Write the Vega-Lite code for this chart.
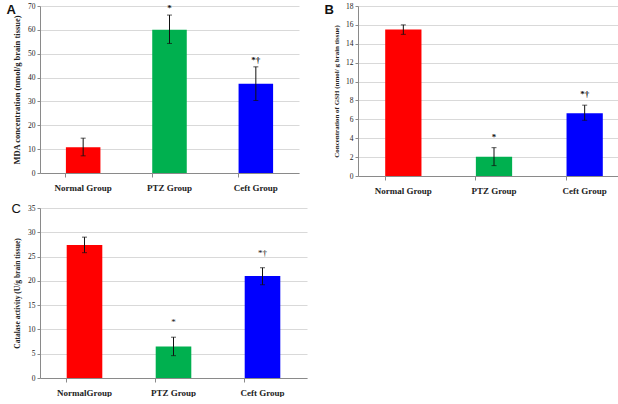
{
  "$schema": "https://vega.github.io/schema/vega-lite/v6.json",
  "background": "white",
  "padding": {"left": 6, "top": 2, "right": 0, "bottom": 0},
  "spacing": 8,
  "resolve": {"scale": {"color": "independent", "x": "independent", "y": "independent"}},
  "datasets": {
    "A": [
      {"group": "Normal Group", "mean": 10.8, "lo": 7.2, "hi": 14.6, "sig": ""},
      {"group": "PTZ Group", "mean": 60, "lo": 54.3, "hi": 66.2, "sig": "*"},
      {"group": "Ceft Group", "mean": 37.4, "lo": 30.4, "hi": 44.5, "sig": "*†"}
    ],
    "B": [
      {"group": "Normal Group", "mean": 15.5, "lo": 15.0, "hi": 16.0, "sig": ""},
      {"group": "PTZ  Group", "mean": 2.05, "lo": 1.1, "hi": 3.0, "sig": "*"},
      {"group": "Ceft Group", "mean": 6.65, "lo": 5.9, "hi": 7.5, "sig": "*†"}
    ],
    "C": [
      {"group": "NormalGroup", "mean": 27.4, "lo": 25.8, "hi": 29.0, "sig": ""},
      {"group": "PTZ Group", "mean": 6.5, "lo": 4.6, "hi": 8.4, "sig": "*"},
      {"group": "Ceft Group", "mean": 21.0, "lo": 19.2, "hi": 22.7, "sig": "*†"}
    ]
  },
  "config": {
    "view": {"stroke": null},
    "font": "Liberation Serif",
    "axis": {
      "labelFont": "Liberation Serif",
      "titleFont": "Liberation Serif",
      "labelColor": "#222",
      "titleColor": "#222",
      "domainColor": "#8a8a8a",
      "tickColor": "#8a8a8a",
      "gridColor": "#d9d9d9",
      "labelFontSize": 7.5,
      "tickSize": 3
    },
    "axisY": {"titleFontWeight": "bold", "titlePadding": 6},
    "axisX": {"labelFontSize": 9, "labelFontWeight": "bold", "labelAngle": 0, "grid": false, "bandPosition": 0, "tickSize": 4, "labelPadding": 6},
    "title": {"font": "Arial", "fontSize": 13, "fontWeight": "bold", "anchor": "start", "frame": "bounds", "color": "#111"}
  },
  "vconcat": [
    {
      "spacing": 25,
      "resolve": {"scale": {"color": "independent", "x": "independent", "y": "independent"}},
      "hconcat": [
        {
          "title": {"text": "A", "dy": 19, "dx": -6},
          "width": 259,
          "height": 167,
          "data": {"name": "A"},
          "encoding": {
            "x": {"field": "group", "type": "nominal", "sort": null, "scale": {"paddingInner": 0.6, "paddingOuter": 0.3}, "axis": {"title": null}}
          },
          "layer": [
            {
              "mark": {"type": "bar"},
              "encoding": {
                "y": {"field": "mean", "type": "quantitative", "scale": {"domain": [0, 70]}, "axis": {"values": [0,10,20,30,40,50,60,70], "title": "MDA concentration (nmol/g brain tissue)", "titleFontSize": 8.5}},
                "color": {"field": "group", "type": "nominal", "sort": null, "scale": {"range": ["#ff0000", "#00b04f", "#0000ff"]}, "legend": null}
              }
            },
            {"mark": {"type": "rule", "color": "#111", "strokeWidth": 1}, "encoding": {"y": {"field": "lo", "type": "quantitative", "axis": {"values": [0,10,20,30,40,50,60,70], "title": "MDA concentration (nmol/g brain tissue)", "titleFontSize": 8.5}}, "y2": {"field": "hi"}}},
            {"mark": {"type": "tick", "color": "#111", "size": 5, "thickness": 1}, "encoding": {"y": {"field": "lo", "type": "quantitative", "axis": {"values": [0,10,20,30,40,50,60,70], "title": "MDA concentration (nmol/g brain tissue)", "titleFontSize": 8.5}}}},
            {"mark": {"type": "tick", "color": "#111", "size": 5, "thickness": 1}, "encoding": {"y": {"field": "hi", "type": "quantitative", "axis": {"values": [0,10,20,30,40,50,60,70], "title": "MDA concentration (nmol/g brain tissue)", "titleFontSize": 8.5}}}},
            {"mark": {"type": "text", "baseline": "bottom", "dy": -2, "fontSize": 9, "font": "Liberation Serif", "fontWeight": "bold", "fill": "#111"}, "encoding": {"y": {"field": "hi", "type": "quantitative", "axis": {"values": [0,10,20,30,40,50,60,70], "title": "MDA concentration (nmol/g brain tissue)", "titleFontSize": 8.5}}, "text": {"field": "sig"}}}
          ]
        },
        {
          "title": {"text": "B", "dy": 19, "dx": -8},
          "width": 272,
          "height": 170,
          "data": {"name": "B"},
          "encoding": {
            "x": {"field": "group", "type": "nominal", "sort": null, "scale": {"paddingInner": 0.6, "paddingOuter": 0.3}, "axis": {"title": null}}
          },
          "layer": [
            {
              "mark": {"type": "bar"},
              "encoding": {
                "y": {"field": "mean", "type": "quantitative", "scale": {"domain": [0, 18]}, "axis": {"values": [0,2,4,6,8,10,12,14,16,18], "title": "Concentration of GSH (nmol/ g brain tissue)", "titleFontSize": 7}},
                "color": {"field": "group", "type": "nominal", "sort": null, "scale": {"range": ["#ff0000", "#00b04f", "#0000ff"]}, "legend": null}
              }
            },
            {"mark": {"type": "rule", "color": "#111", "strokeWidth": 1}, "encoding": {"y": {"field": "lo", "type": "quantitative", "axis": {"values": [0,2,4,6,8,10,12,14,16,18], "title": "Concentration of GSH (nmol/ g brain tissue)", "titleFontSize": 7}}, "y2": {"field": "hi"}}},
            {"mark": {"type": "tick", "color": "#111", "size": 5, "thickness": 1}, "encoding": {"y": {"field": "lo", "type": "quantitative", "axis": {"values": [0,2,4,6,8,10,12,14,16,18], "title": "Concentration of GSH (nmol/ g brain tissue)", "titleFontSize": 7}}}},
            {"mark": {"type": "tick", "color": "#111", "size": 5, "thickness": 1}, "encoding": {"y": {"field": "hi", "type": "quantitative", "axis": {"values": [0,2,4,6,8,10,12,14,16,18], "title": "Concentration of GSH (nmol/ g brain tissue)", "titleFontSize": 7}}}},
            {"mark": {"type": "text", "baseline": "bottom", "dy": -6, "fontSize": 9, "font": "Liberation Serif", "fontWeight": "bold", "fill": "#111"}, "encoding": {"y": {"field": "hi", "type": "quantitative", "axis": {"values": [0,2,4,6,8,10,12,14,16,18], "title": "Concentration of GSH (nmol/ g brain tissue)", "titleFontSize": 7}}, "text": {"field": "sig"}}}
          ]
        }
      ]
    },
    {
      "title": {"text": "C", "dy": 16, "dx": -2, "fontWeight": "normal"},
      "width": 267,
      "height": 170,
      "data": {"name": "C"},
      "encoding": {
        "x": {"field": "group", "type": "nominal", "sort": null, "scale": {"paddingInner": 0.6, "paddingOuter": 0.3}, "axis": {"title": null}}
      },
      "layer": [
        {
          "mark": {"type": "bar"},
          "encoding": {
            "y": {"field": "mean", "type": "quantitative", "scale": {"domain": [0, 35]}, "axis": {"values": [0,5,10,15,20,25,30,35], "title": "Catalase activity (U/g brain tissue)", "titleFontSize": 7.5}},
            "color": {"field": "group", "type": "nominal", "sort": null, "scale": {"range": ["#ff0000", "#00b04f", "#0000ff"]}, "legend": null}
          }
        },
        {"mark": {"type": "rule", "color": "#111", "strokeWidth": 1}, "encoding": {"y": {"field": "lo", "type": "quantitative", "axis": {"values": [0,5,10,15,20,25,30,35], "title": "Catalase activity (U/g brain tissue)", "titleFontSize": 7.5}}, "y2": {"field": "hi"}}},
        {"mark": {"type": "tick", "color": "#111", "size": 5, "thickness": 1}, "encoding": {"y": {"field": "lo", "type": "quantitative", "axis": {"values": [0,5,10,15,20,25,30,35], "title": "Catalase activity (U/g brain tissue)", "titleFontSize": 7.5}}}},
        {"mark": {"type": "tick", "color": "#111", "size": 5, "thickness": 1}, "encoding": {"y": {"field": "hi", "type": "quantitative", "axis": {"values": [0,5,10,15,20,25,30,35], "title": "Catalase activity (U/g brain tissue)", "titleFontSize": 7.5}}}},
        {"mark": {"type": "text", "baseline": "bottom", "dy": -10, "fontSize": 9, "font": "Liberation Serif", "fill": "#111"}, "encoding": {"y": {"field": "hi", "type": "quantitative", "axis": {"values": [0,5,10,15,20,25,30,35], "title": "Catalase activity (U/g brain tissue)", "titleFontSize": 7.5}}, "text": {"field": "sig"}}}
      ]
    }
  ]
}
